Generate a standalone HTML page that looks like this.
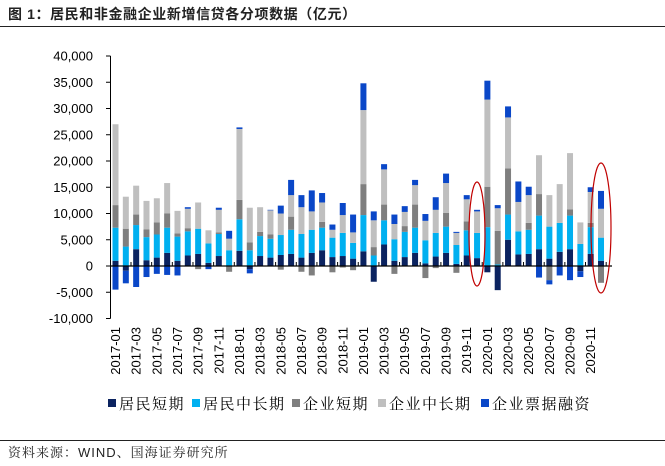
<!DOCTYPE html>
<html><head><meta charset="utf-8">
<style>
body{margin:0;background:#fff;width:665px;height:466px;overflow:hidden;font-family:"Liberation Sans","Noto Sans CJK SC",sans-serif;}
svg{display:block}
</style></head>
<body>
<svg id="chart" width="665" height="466">
<text x="8" y="19" font-size="14" font-weight="bold" fill="#222" font-family="Liberation Sans, Noto Sans CJK SC, sans-serif" letter-spacing="0.6">图 1：居民和非金融企业新增信贷各分项数据（亿元）</text>
<line x1="0" y1="26.5" x2="665" y2="26.5" stroke="#222" stroke-width="1"/>
<line x1="0" y1="440.5" x2="665" y2="440.5" stroke="#222" stroke-width="1"/>
<text x="8" y="457" font-size="13" fill="#222" letter-spacing="1" font-family="Liberation Sans, Noto Serif CJK SC, serif">资料来源：WIND、国海证券研究所</text>
<g id="bars"></g>
<g id="axes"></g>
<g id="legend"></g>
<ellipse cx="477" cy="234" rx="8" ry="52" fill="none" stroke="#c00000" stroke-width="1.2"/>
<ellipse cx="601" cy="228" rx="10" ry="65" fill="none" stroke="#c00000" stroke-width="1.2"/>
</svg>
<script>
const months=[];for(let y=2017;y<=2020;y++)for(let m=1;m<=12;m++)months.push(y+'-'+String(m).padStart(2,'0'));
const resShort=[1.0,-0.9,3.2,1.1,1.6,2.5,1.0,2.0,2.3,0.6,1.9,0,2.9,-0.6,1.9,1.6,2.1,2.3,1.6,2.5,3.0,1.7,1.9,1.4,2.8,-3.0,4.1,1.0,1.7,2.5,0.5,1.8,2.5,0.4,2.0,1.5,-1.2,-4.6,5.0,2.2,2.3,3.2,1.4,2.7,3.2,-1.0,2.3,1.0];
const resLong=[6.3,3.7,4.6,4.4,4.4,4.8,4.6,4.6,4.8,3.7,4.2,3.0,6.0,3.0,3.8,3.6,3.8,4.6,4.5,4.4,4.3,3.7,4.4,3.0,6.9,2.0,4.6,4.1,4.8,4.8,4.4,4.5,5.0,3.6,4.8,4.8,7.4,0.3,4.8,4.4,4.6,6.4,6.1,5.5,6.4,4.2,5.1,4.4];
const corpShort=[4.3,3.4,2.0,1.5,2.3,2.7,0.6,0.6,-0.6,0,0.3,-1.1,3.7,1.5,0.8,0.8,-0.7,2.5,-1.1,-1.8,1.1,-1.2,-0.3,-0.8,5.9,1.6,3.0,-1.5,1.1,4.4,-2.3,-0.4,2.6,-1.3,1.7,0,7.7,6.4,8.8,0,1.3,4.1,-2.7,0,1.2,0,0.8,-3.2];
const corpLong=[15.4,6.1,5.5,5.4,4.6,5.8,4.3,3.7,5.0,2.5,4.3,2.2,13.5,6.6,4.7,4.6,4.1,4.1,5.1,3.5,3.7,1.5,3.4,2.0,14.1,5.1,6.7,2.9,2.7,3.7,3.7,4.4,5.7,2.3,4.2,4.1,16.6,4.3,9.7,5.6,5.3,7.4,6.0,7.4,10.7,4.1,5.9,5.5];
const bills=[-4.5,-2.4,-4.0,-2.1,-1.5,-1.7,-1.8,0.3,0,-0.6,0.4,1.5,0.3,-0.8,0,0.1,1.5,2.9,2.3,4.0,1.8,1.0,2.3,3.4,5.1,1.7,1.0,1.8,1.1,1.0,1.3,2.4,1.8,0.2,0.8,0.3,3.6,0.6,2.1,3.9,1.6,-2.2,-0.8,-1.8,-2.7,-1.1,0.9,3.4];
const seriesNames=['居民短期','居民中长期','企业短期','企业中长期','企业票据融资'];
const seriesKeys=['resident-short','resident-long','corp-short','corp-long','bill-financing'];
const colors=['#0b2360','#00b0f0','#7f7f7f','#bfbfbf','#0a47c8'];
const yTicks=[-10000,-5000,0,5000,10000,15000,20000,25000,30000,35000,40000];
const NS='http://www.w3.org/2000/svg';
const y0=266,pxPer=210/40000,x0=115.5,dx=10.33,bw=6;
const yS=v=>y0-v*pxPer;const xS=i=>x0+i*dx;
function mk(t,a,p){const e=document.createElementNS(NS,t);for(const k in a)e.setAttribute(k,a[k]);p.appendChild(e);return e;}
const gb=document.getElementById('bars'),ga=document.getElementById('axes'),gl=document.getElementById('legend');
const data=[resShort,resLong,corpShort,corpLong,bills];
months.forEach((m,i)=>{let pos=0,neg=0;
 data.forEach((s,k)=>{const v=s[i]*1000;if(v===0)return;let a,b;
  if(v>0){a=pos;b=pos+v;pos=b;}else{a=neg;b=neg+v;neg=b;}
  const r=mk('rect',{x:xS(i)-bw/2,y:Math.min(yS(a),yS(b)),width:bw,height:Math.abs(yS(b)-yS(a)),fill:colors[k]},gb);
  
  
 });});
const ax=mk('line',{x1:110.5,y1:yS(40000),x2:110.5,y2:yS(-10000),stroke:'#000','stroke-width':1},ga);

yTicks.forEach(t=>{const y=yS(t);
 const tk=mk('line',{x1:106,y1:y,x2:110.5,y2:y,stroke:'#000'},ga);
 
 const tx=mk('text',{x:93,y:y+4.5,'font-size':13,'text-anchor':'end',fill:'#000'},ga);
 tx.textContent=t.toLocaleString('en-US');
 });
const zl=mk('line',{x1:110.5,y1:y0,x2:612,y2:y0,stroke:'#000','stroke-width':1.3},ga);

months.forEach((m,i)=>{
 if(i%2===1){const tk=mk('line',{x1:xS(i)+dx/2,y1:y0,x2:xS(i)+dx/2,y2:y0-4,stroke:'#000'},ga);
  }
 if(i%2===0){const tx=mk('text',{x:0,y:0,'font-size':13,'text-anchor':'end',fill:'#000',transform:`translate(${xS(i)+4.5},327) rotate(-90)`},ga);
  tx.textContent=m;}
});
const lx=[108,192,292,378,481];
seriesNames.forEach((n,k)=>{
 const g=mk('g',{},gl);
 mk('rect',{x:lx[k],y:399,width:8,height:8,fill:colors[k]},g);
 const t=mk('text',{x:lx[k]+11,y:409,'font-size':15,'letter-spacing':1.5,fill:'#000','font-family':'Liberation Serif, Noto Serif CJK SC, serif'},g);
 t.textContent=n;
});
</script>
</body></html>
